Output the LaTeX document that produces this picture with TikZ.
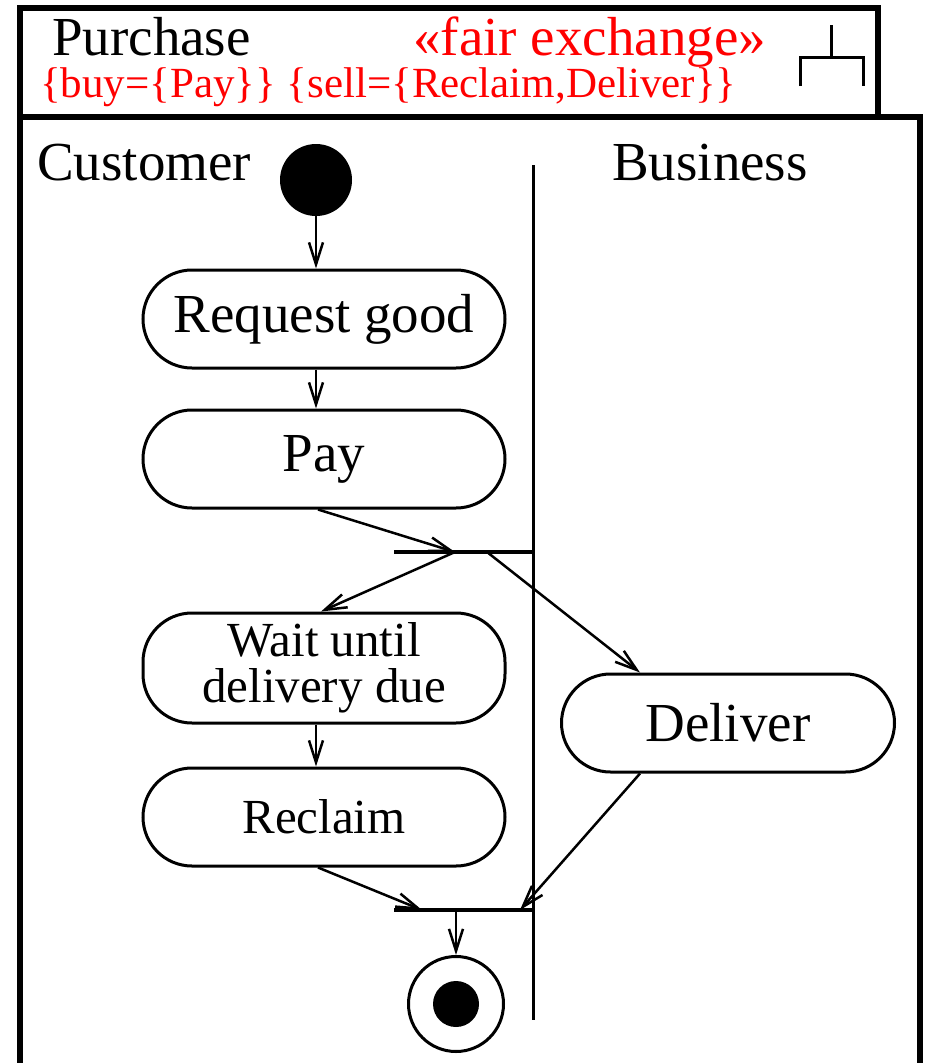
\documentclass[tikz,border=0pt]{standalone}
\usepackage{fontspec}
\setmainfont{Liberation Serif}
\usetikzlibrary{arrows.meta,calc}
\newcommand{\BIG}{\fontsize{55}{60}\selectfont}
\newcommand{\MID}{\fontsize{49}{46}\selectfont}

\begin{document}
\begin{tikzpicture}[x=1pt,y=-1pt,
  >={Straight Barb[length=22pt,width=14pt]},
  action/.style={draw,line width=3pt,rounded corners=49pt,minimum width=362pt,
    minimum height=98pt,inner sep=0pt,font=\BIG,align=center},
  flow/.style={->,line width=2.5pt},
  bar/.style={line width=3.5pt},
  frame/.style={line width=6pt},
  label/.style={anchor=base west,inner sep=0pt,font=\BIG}]

  \useasboundingbox (0,0) rectangle (926,1063);

  %% frame and header
  \draw[frame] (20,1070) -- (20,117) -- (920,117) -- (920,1070);
  \draw[frame,fill=white] (20,8) rectangle (878,117);
  \node[label] (title) at (52,55) {Purchase};
  \node[label,text=red] (stereo) at (413,55) {«fair exchange»};
  \node[label,text=red,font=\fontsize{43}{48}\selectfont] (tags) at (40,97)
    {\{buy=\{Pay\}\} \{sell=\{Reclaim,Deliver\}\}};
  \draw[line width=3pt] (831,25) -- (831,57) (800,86) -- (800,57) -- (863,57) -- (863,86); % rake

  %% swimlanes
  \node[label] (cust) at (37,180) {Customer};
  \node[label] (biz) at (612,180) {Business};
  \draw[line width=3pt] (533,165) -- (533,1020);

  %% nodes
  \node[circle,fill,minimum size=72pt,inner sep=0pt] (init) at (316,180) {};
  \node[action] (req) at (324,319) {Request good};
  \node[action] (pay) at (324,459) {Pay};
  \node[action,minimum height=110pt,font=\MID] (wait) at (324,668) {Wait until\\delivery due};
  \node[action,font=\MID] (recl) at (324,817) {Reclaim};
  \node[action,minimum width=333pt] (deliv) at (728,723) {Deliver};
  \node[circle,draw,line width=3pt,minimum size=95pt,inner sep=0pt] (final) at (456,1004) {};
  \node[circle,fill,minimum size=46pt,inner sep=0pt] (finaldot) at (final) {};

  %% fork and join
  \draw[bar] (394,552) -- (533,552); % fork
  \coordinate (forkin) at (455,552);
  \coordinate (forkout) at (487,552);
  \draw[bar] (394,910) -- (533,910); % join
  \coordinate (joinl) at (422,910);
  \coordinate (joinr) at (520,910);
  \coordinate (joinout) at (456,910);

  %% flows
  \draw[flow] (init) -- (init |- req.north);
  \draw[flow] (req.south -| init) -- (pay.north -| init);
  \draw[flow] ($(pay.south)+(-6,0)$) -- (forkin);
  \draw[flow] (forkin) -- ($(wait.north)+(-3,0)$);
  \draw[flow] (forkout) -- ($(deliv.north)+(-88,0)$);
  \draw[flow] (wait.south -| init) -- (recl.north -| init);
  \draw[flow] ($(recl.south)+(-6,0)$) -- (joinl);
  \draw[flow] ($(deliv.south)+(-88,0)$) -- (joinr);
  \draw[flow] (joinout) -- (final);

\end{tikzpicture}
\end{document}
